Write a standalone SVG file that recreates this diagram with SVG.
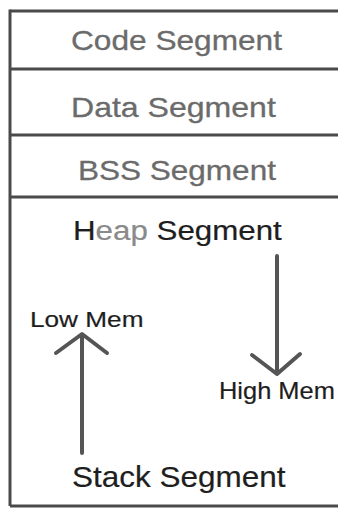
<svg xmlns="http://www.w3.org/2000/svg" width="338" height="508" viewBox="0 0 338 508">
  <style>
    .frame { stroke: #4a4a4a; stroke-width: 3; fill: none; }
    .seg { font-family: "Liberation Sans", Arial, sans-serif; fill: #6b6b6b; stroke: #6b6b6b; stroke-width: 0.3; }
    .dark { font-family: "Liberation Sans", Arial, sans-serif; fill: #1e1e1e; stroke: #1e1e1e; stroke-width: 0.2; }
    .arrow { stroke: #555; stroke-width: 4; fill: none; stroke-linecap: round; stroke-linejoin: round; }
  </style>
  <rect width="338" height="508" fill="#fff"/>

  <!-- memory layout frame -->
  <g id="frame">
    <line class="frame" x1="10" y1="11" x2="338" y2="11"/>
    <line class="frame" x1="10" y1="9.5" x2="10" y2="506"/>
    <line class="frame" x1="10" y1="506" x2="338" y2="506"/>
  </g>

  <g id="code-segment">
    <text class="seg" transform="translate(71 50) scale(1.13 1)" font-size="28">Code Segment</text>
  </g>
  <g id="data-segment">
    <line class="frame" x1="10" y1="69" x2="338" y2="69"/>
    <text class="seg" transform="translate(71 117) scale(1.145 1)" font-size="28">Data Segment</text>
  </g>
  <g id="bss-segment">
    <line class="frame" x1="10" y1="135" x2="338" y2="135"/>
    <text class="seg" transform="translate(78 180) scale(1.126 1)" font-size="28">BSS Segment</text>
  </g>
  <g id="heap-segment">
    <line class="frame" x1="10" y1="197" x2="338" y2="197"/>
    <text class="dark" transform="translate(73 240) scale(1.16 1)" font-size="27">H<tspan fill="#8a8a8a" stroke="#8a8a8a">eap</tspan> Segment</text>
  </g>
  <g id="low-mem">
    <text class="dark" transform="translate(30 327) scale(1.19 1)" font-size="22">Low Mem</text>
  </g>
  <g id="high-mem">
    <text class="dark" transform="translate(219 399) scale(1.06 1)" font-size="24">High Mem</text>
  </g>
  <g id="stack-segment">
    <text class="dark" transform="translate(72 487) scale(1.05 1)" font-size="30">Stack Segment</text>
  </g>

  <!-- growth arrows -->
  <g id="connectors">
    <path class="arrow" d="M82 453 V335 M56 353 L82 334 L107 353"/>
    <path class="arrow" d="M277 256 V374 M252 355 L277 374 L300 354" stroke="#666"/>
  </g>
</svg>
